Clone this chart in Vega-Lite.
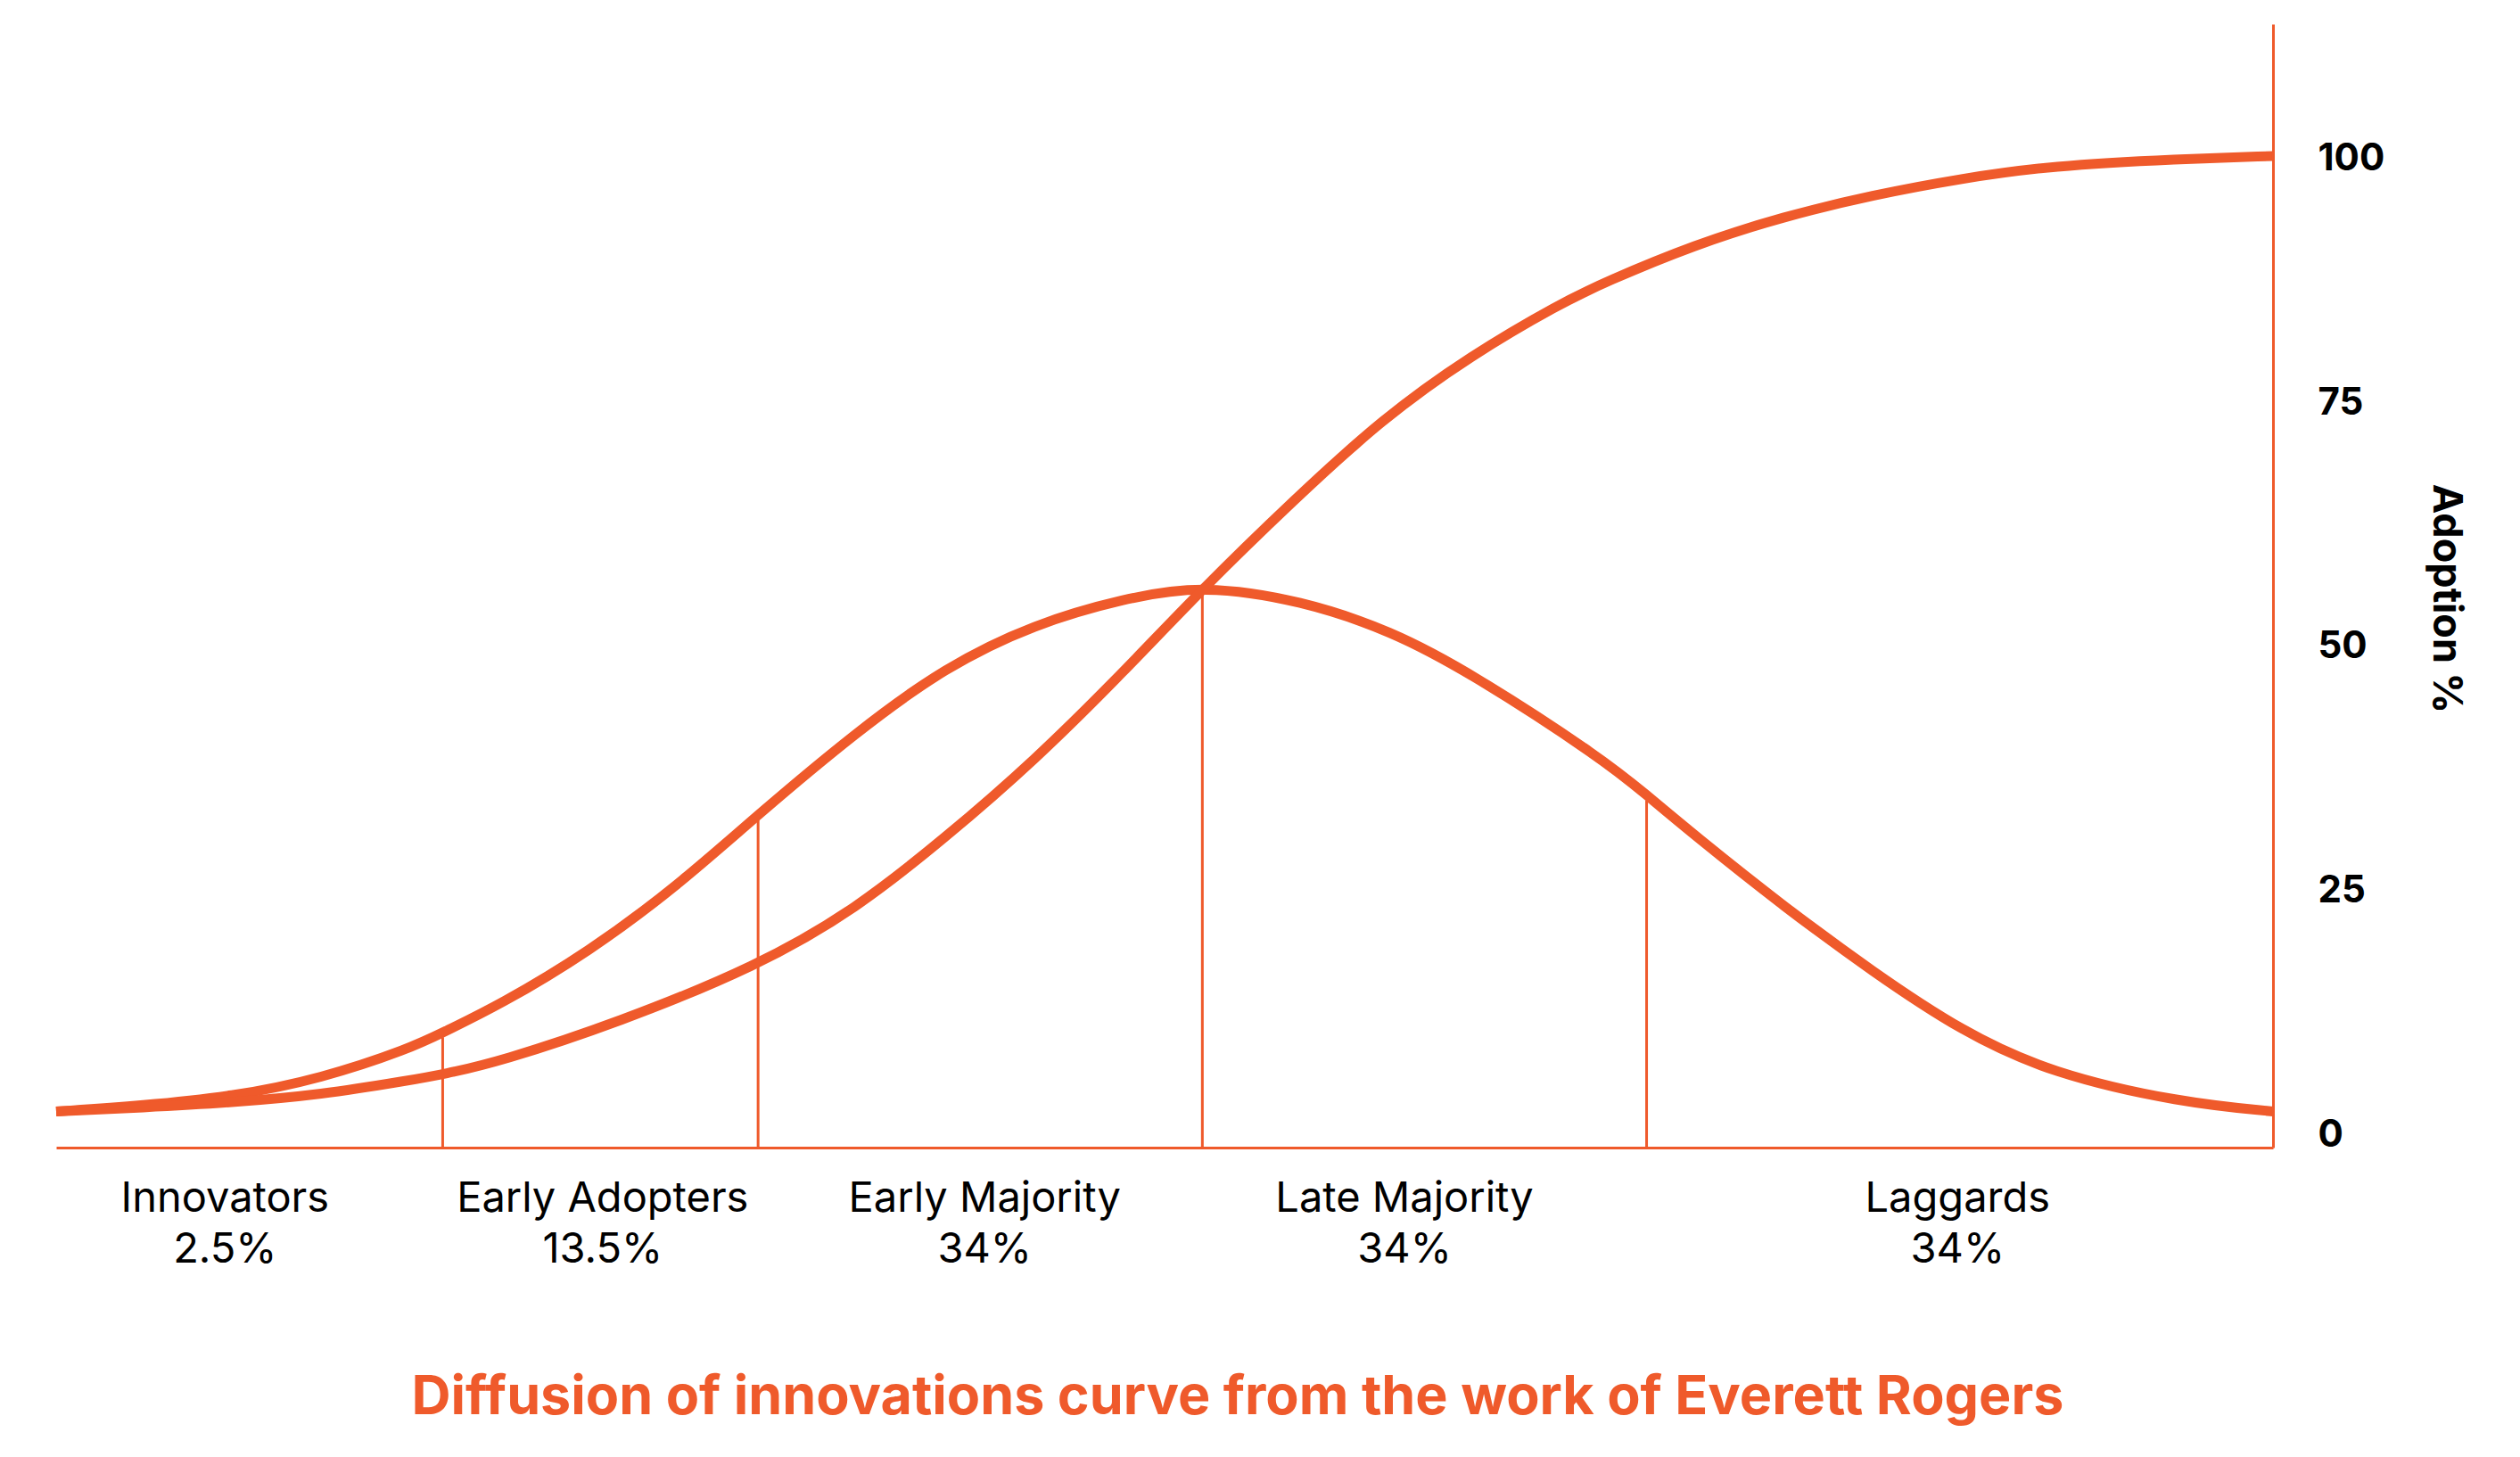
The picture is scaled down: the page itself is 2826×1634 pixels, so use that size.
{
  "$schema": "https://vega.github.io/schema/vega-lite/v6.json",
  "width": 2486,
  "height": 1260,
  "padding": {"left": 41, "top": 27, "right": 10, "bottom": 10},
  "background": "white",
  "config": {"view": {"stroke": null}, "font": "Inter"},
  "title": {
    "text": "Diffusion of innovations curve from the work of Everett Rogers",
    "orient": "bottom",
    "anchor": "middle",
    "frame": "group",
    "color": "#EF5A2B",
    "font": "Inter",
    "fontSize": 61,
    "fontWeight": "bold",
    "dx": 82,
    "offset": 113
  },
  "datasets": {
    "curves": [
      {"series": "Adopters per segment", "x": -2.58, "y": 2.4},
      {"series": "Adopters per segment", "x": -2.385, "y": 3.0},
      {"series": "Adopters per segment", "x": -2.185, "y": 3.9},
      {"series": "Adopters per segment", "x": -1.984, "y": 5.75},
      {"series": "Adopters per segment", "x": -1.783, "y": 8.85},
      {"series": "Adopters per segment", "x": -1.709, "y": 10.5},
      {"series": "Adopters per segment", "x": -1.582, "y": 13.3},
      {"series": "Adopters per segment", "x": -1.382, "y": 18.7},
      {"series": "Adopters per segment", "x": -1.181, "y": 25.5},
      {"series": "Adopters per segment", "x": -1.0, "y": 32.8},
      {"series": "Adopters per segment", "x": -0.78, "y": 41.2},
      {"series": "Adopters per segment", "x": -0.579, "y": 47.9},
      {"series": "Adopters per segment", "x": -0.378, "y": 52.3},
      {"series": "Adopters per segment", "x": -0.177, "y": 54.9},
      {"series": "Adopters per segment", "x": 0.0, "y": 56.3},
      {"series": "Adopters per segment", "x": 0.224, "y": 54.7},
      {"series": "Adopters per segment", "x": 0.425, "y": 51.6},
      {"series": "Adopters per segment", "x": 0.604, "y": 47.3},
      {"series": "Adopters per segment", "x": 0.907, "y": 38.3},
      {"series": "Adopters per segment", "x": 0.997, "y": 34.9},
      {"series": "Adopters per segment", "x": 1.107, "y": 30.7},
      {"series": "Adopters per segment", "x": 1.308, "y": 23.4},
      {"series": "Adopters per segment", "x": 1.509, "y": 16.7},
      {"series": "Adopters per segment", "x": 1.709, "y": 10.6},
      {"series": "Adopters per segment", "x": 1.91, "y": 6.3},
      {"series": "Adopters per segment", "x": 2.203, "y": 3.3},
      {"series": "Adopters per segment", "x": 2.41, "y": 2.4},
      {"series": "Cumulative adoption", "x": -2.58, "y": 2.4},
      {"series": "Cumulative adoption", "x": -2.385, "y": 2.8},
      {"series": "Cumulative adoption", "x": -2.185, "y": 3.3},
      {"series": "Cumulative adoption", "x": -1.984, "y": 4.1},
      {"series": "Cumulative adoption", "x": -1.783, "y": 5.6},
      {"series": "Cumulative adoption", "x": -1.709, "y": 6.2},
      {"series": "Cumulative adoption", "x": -1.582, "y": 7.5},
      {"series": "Cumulative adoption", "x": -1.315, "y": 11.5},
      {"series": "Cumulative adoption", "x": -1.0, "y": 17.3},
      {"series": "Cumulative adoption", "x": -0.78, "y": 23.1},
      {"series": "Cumulative adoption", "x": -0.579, "y": 30.4},
      {"series": "Cumulative adoption", "x": -0.378, "y": 38.3},
      {"series": "Cumulative adoption", "x": -0.177, "y": 47.4},
      {"series": "Cumulative adoption", "x": 0.0, "y": 55.9},
      {"series": "Cumulative adoption", "x": 0.204, "y": 64.9},
      {"series": "Cumulative adoption", "x": 0.405, "y": 73.3},
      {"series": "Cumulative adoption", "x": 0.605, "y": 79.8},
      {"series": "Cumulative adoption", "x": 0.806, "y": 85.1},
      {"series": "Cumulative adoption", "x": 0.907, "y": 87.3},
      {"series": "Cumulative adoption", "x": 1.107, "y": 91.1},
      {"series": "Cumulative adoption", "x": 1.308, "y": 94.0},
      {"series": "Cumulative adoption", "x": 1.509, "y": 96.2},
      {"series": "Cumulative adoption", "x": 1.709, "y": 97.9},
      {"series": "Cumulative adoption", "x": 1.91, "y": 99.2},
      {"series": "Cumulative adoption", "x": 2.2, "y": 99.9},
      {"series": "Cumulative adoption", "x": 2.41, "y": 100.2}
    ],
    "dividers": [
      {"x": -1.71, "top": 10.0},
      {"x": -1.0, "top": 32.2},
      {"x": 0.0, "top": 55.5},
      {"x": 1.0, "top": 34.2}
    ],
    "groups": [
      {"name": "Innovators", "share": "2.5%", "x": -2.20},
      {"name": "Early Adopters", "share": "13.5%", "x": -1.35},
      {"name": "Early Majority", "share": "34%", "x": -0.49},
      {"name": "Late Majority", "share": "34%", "x": 0.455},
      {"name": "Laggards", "share": "34%", "x": 1.70}
    ]
  },
  "layer": [
    {
      "data": {"name": "dividers"},
      "mark": {"type": "rule", "color": "#EF5A2B", "strokeWidth": 3},
      "encoding": {
        "x": {
          "field": "x",
          "type": "quantitative",
          "scale": {"domain": [-2.58, 2.41], "nice": false, "zero": false},
          "axis": {"orient": "bottom", "domainColor": "#EF5A2B", "domainWidth": 3, "ticks": false, "labels": false, "grid": false, "title": null}
        },
        "y": {
          "field": "top",
          "type": "quantitative",
          "scale": {"domain": [-1.3, 113.7], "nice": false, "zero": false},
          "axis": {
            "orient": "right",
            "values": [0, 25, 50, 75, 100],
            "domainColor": "#EF5A2B",
            "domainWidth": 3,
            "ticks": false,
            "grid": false,
            "labelPadding": 50,
            "labelFont": "Inter",
            "labelFontSize": 42,
            "labelFontWeight": "bold",
            "labelColor": "black",
            "title": "Adoption %",
            "titleFont": "Inter",
            "titleFontSize": 45,
            "titleFontWeight": "bold",
            "titleColor": "black",
            "titlePadding": 46,
            "titleY": 644
          }
        },
        "y2": {"datum": -1.3}
      }
    },
    {
      "data": {"name": "curves"},
      "mark": {"type": "line", "interpolate": "basis", "strokeWidth": 11, "color": "#EF5A2B"},
      "encoding": {
        "x": {"field": "x", "type": "quantitative"},
        "y": {"field": "y", "type": "quantitative"},
        "detail": {"field": "series"}
      }
    },
    {
      "data": {"name": "groups"},
      "mark": {"type": "text", "baseline": "middle", "align": "center", "dy": 58, "fontSize": 47, "font": "Inter", "color": "black"},
      "encoding": {
        "x": {"field": "x", "type": "quantitative"},
        "y": {"datum": -1.3},
        "text": {"field": "name"}
      }
    },
    {
      "data": {"name": "groups"},
      "mark": {"type": "text", "baseline": "middle", "align": "center", "dy": 115, "fontSize": 47, "font": "Inter", "color": "black"},
      "encoding": {
        "x": {"field": "x", "type": "quantitative"},
        "y": {"datum": -1.3},
        "text": {"field": "share"}
      }
    }
  ]
}
